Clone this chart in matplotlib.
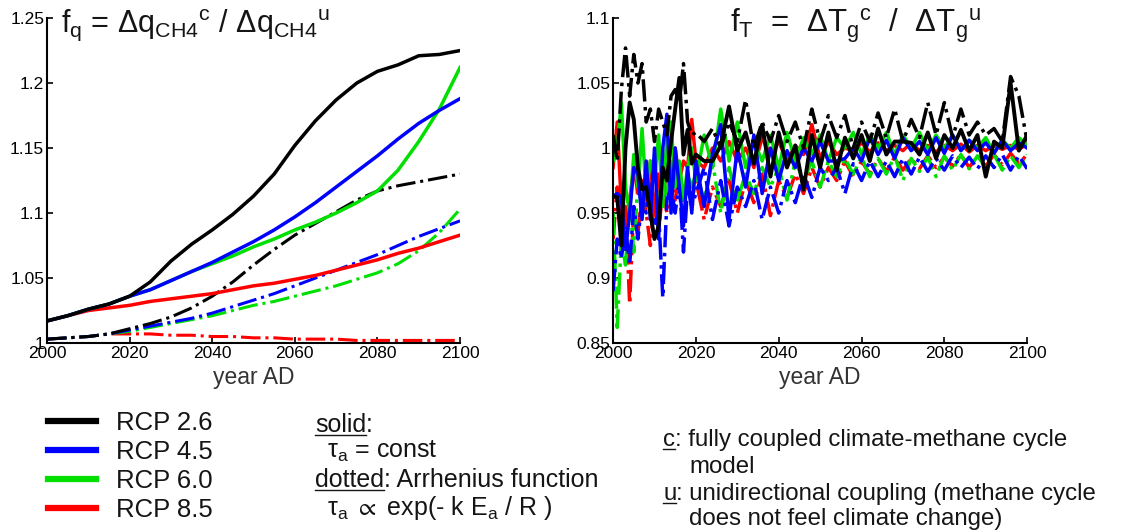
import matplotlib.pyplot as plt
from matplotlib.lines import Line2D

plt.rcParams['font.family'] = ['Liberation Sans', 'DejaVu Sans']
plt.rcParams['mathtext.fontset'] = 'custom'
plt.rcParams['mathtext.rm'] = 'Liberation Sans'
plt.rcParams['mathtext.it'] = 'Liberation Sans'
plt.rcParams['mathtext.fallback'] = 'stixsans'
plt.rcParams['text.color'] = '#151515'

# ---- left panel: methane amplification factor f_q ----
years_q = list(range(2000, 2101, 5))
q_26_c = [1.017, 1.021, 1.026, 1.030, 1.036, 1.047, 1.063, 1.076, 1.087, 1.099, 1.113,
          1.130, 1.152, 1.171, 1.187, 1.200, 1.209, 1.214, 1.221, 1.222, 1.225]
q_45_c = [1.017, 1.021, 1.026, 1.030, 1.036, 1.041, 1.048, 1.055, 1.062, 1.070, 1.078,
          1.087, 1.097, 1.108, 1.120, 1.132, 1.144, 1.157, 1.169, 1.179, 1.188]
q_60_c = [1.017, 1.021, 1.026, 1.030, 1.036, 1.041, 1.048, 1.055, 1.061, 1.067, 1.074,
          1.080, 1.087, 1.093, 1.100, 1.108, 1.117, 1.133, 1.155, 1.180, 1.212]
q_85_c = [1.017, 1.021, 1.025, 1.027, 1.029, 1.032, 1.034, 1.036, 1.038, 1.041, 1.044,
          1.046, 1.049, 1.052, 1.056, 1.060, 1.064, 1.069, 1.073, 1.078, 1.083]
q_26_a = [1.003, 1.004, 1.005, 1.007, 1.011, 1.015, 1.020, 1.027, 1.036, 1.047, 1.060,
          1.072, 1.083, 1.092, 1.101, 1.110, 1.117, 1.121, 1.124, 1.127, 1.130]
q_45_a = [1.003, 1.004, 1.005, 1.007, 1.010, 1.013, 1.016, 1.019, 1.023, 1.028, 1.033,
          1.038, 1.044, 1.050, 1.056, 1.062, 1.068, 1.075, 1.082, 1.088, 1.094]
q_60_a = [1.003, 1.004, 1.005, 1.007, 1.009, 1.012, 1.015, 1.018, 1.021, 1.025, 1.029,
          1.032, 1.036, 1.040, 1.044, 1.049, 1.054, 1.061, 1.071, 1.085, 1.103]
q_85_a = [1.003, 1.004, 1.005, 1.007, 1.007, 1.007, 1.006, 1.006, 1.005, 1.005, 1.004,
          1.004, 1.003, 1.003, 1.003, 1.002, 1.002, 1.002, 1.002, 1.002, 1.002]

# ---- right panel: temperature amplification factor f_T ----
years_T = list(range(2000, 2020)) + list(range(2020, 2101, 2))
T_26_c = [0.963, 0.962, 0.925, 1.000, 1.035, 1.022, 0.985, 0.968, 0.970, 0.950,
          0.930, 0.940, 0.985, 0.975, 1.005, 1.030, 1.054, 0.995, 1.014, 0.988,
          0.995, 0.990, 0.990, 1.002, 1.032, 0.998, 1.012, 0.988, 1.018, 0.978,
          1.012, 0.985, 1.002, 0.968, 1.010, 0.985, 1.012, 0.983, 1.008, 0.992,
          1.010, 0.990, 1.015, 0.995, 1.005, 1.005, 1.004, 0.995, 1.012, 0.992,
          1.010, 1.000, 1.014, 0.998, 1.010, 0.978, 1.005, 1.000, 1.050, 0.998, 1.010]
T_45_c = [0.963, 0.965, 0.962, 0.922, 0.950, 0.985, 0.980, 0.945, 0.990, 0.945,
          1.000, 0.930, 1.000, 1.026, 0.950, 1.000, 0.970, 0.940, 0.985, 0.950,
          0.990, 0.955, 0.995, 1.018, 0.945, 1.000, 0.970, 1.010, 0.965, 1.000,
          0.975, 0.998, 0.985, 1.000, 0.990, 1.005, 0.990, 0.990, 0.992, 1.000,
          0.990, 1.008, 0.995, 1.006, 0.992, 1.008, 0.998, 1.005, 0.995, 1.008,
          0.996, 1.010, 0.998, 1.006, 0.998, 1.004, 0.996, 1.006, 0.998, 1.004, 1.000]
T_60_c = [0.990, 1.000, 1.035, 0.970, 0.950, 0.995, 0.970, 1.015, 0.965, 0.990,
          0.975, 1.010, 0.955, 1.010, 1.020, 0.970, 0.990, 0.960, 0.985, 1.000,
          0.975, 1.010, 0.985, 1.030, 0.990, 1.020, 0.985, 1.005, 0.990, 1.010,
          0.985, 1.012, 0.990, 1.008, 0.995, 1.010, 0.990, 1.008, 1.000, 1.012,
          0.995, 1.010, 1.000, 1.012, 0.995, 1.010, 1.000, 1.012, 0.998, 1.010,
          1.000, 1.010, 0.998, 1.006, 1.000, 1.008, 0.996, 1.006, 1.000, 1.008, 1.002]
T_85_c = [0.985, 1.020, 0.955, 0.940, 0.960, 0.985, 0.965, 0.975, 0.960, 0.990,
          0.950, 0.980, 0.960, 0.990, 0.970, 1.000, 0.975, 0.990, 0.985, 1.022,
          0.990, 0.985, 1.000, 0.990, 1.005, 0.990, 1.000, 0.985, 1.008, 0.995,
          1.005, 0.990, 1.002, 0.995, 1.018, 0.992, 1.005, 0.995, 1.000, 0.998,
          1.004, 0.997, 1.004, 0.998, 1.002, 0.998, 1.004, 0.998, 1.002, 0.997,
          1.002, 0.998, 1.003, 0.997, 1.002, 0.998, 1.002, 0.999, 1.002, 0.999, 1.003]
T_26_a = [1.010, 0.990, 1.045, 1.077, 1.040, 1.072, 1.050, 1.065, 1.020, 1.030,
          1.005, 1.030, 1.020, 1.010, 1.040, 1.045, 1.035, 1.065, 1.020, 1.010,
          1.012, 1.005, 1.015, 1.000, 1.020, 1.005, 1.037, 1.000, 1.020, 1.005,
          1.025, 1.005, 1.020, 1.000, 1.030, 1.005, 1.025, 1.008, 1.025, 1.000,
          1.020, 1.005, 1.027, 1.008, 1.030, 1.005, 1.022, 1.008, 1.035, 1.010,
          1.035, 1.008, 1.030, 1.010, 1.020, 1.010, 1.015, 1.005, 1.055, 1.040, 1.005]
T_45_a = [0.890, 0.930, 0.915, 0.940, 0.910, 0.955, 0.930, 0.960, 0.950, 0.975,
          0.940, 0.950, 0.885, 0.960, 0.970, 0.950, 0.975, 0.920, 0.970, 0.955,
          0.965, 0.985, 0.945, 0.975, 0.940, 0.970, 0.955, 0.975, 0.945, 0.970,
          0.950, 0.975, 0.958, 0.980, 0.962, 0.985, 0.975, 0.985, 0.965, 0.988,
          0.975, 0.990, 0.978, 0.990, 0.978, 0.992, 0.980, 0.993, 0.982, 0.992,
          0.983, 0.994, 0.985, 0.993, 0.984, 0.994, 0.985, 0.995, 0.983, 0.994, 0.984]
T_60_a = [0.950, 0.862, 0.930, 0.910, 0.960, 0.920, 0.975, 0.950, 0.985, 0.960,
          0.990, 0.955, 0.980, 0.965, 0.990, 0.970, 0.985, 0.960, 0.980, 0.970,
          0.980, 0.960, 0.990, 0.950, 0.985, 0.960, 0.980, 0.965, 0.985, 0.970,
          0.985, 0.960, 0.990, 0.975, 0.990, 0.970, 0.990, 0.978, 0.992, 0.980,
          0.993, 0.978, 0.992, 0.980, 0.994, 0.975, 0.992, 0.982, 0.993, 0.978,
          0.994, 0.983, 0.995, 0.984, 0.994, 0.985, 0.995, 0.983, 0.994, 0.985, 0.995]
T_85_a = [0.930, 0.970, 0.940, 0.955, 0.880, 0.955, 0.935, 0.965, 0.950, 0.925,
          0.960, 0.935, 0.970, 0.950, 0.975, 0.960, 0.980, 0.965, 0.975, 0.960,
          0.975, 0.945, 0.970, 0.955, 0.975, 0.950, 0.975, 0.958, 0.980, 0.948,
          0.975, 0.962, 0.980, 0.965, 0.985, 0.970, 0.985, 0.975, 0.990, 0.978,
          0.990, 0.980, 0.992, 0.982, 0.993, 0.983, 0.992, 0.984, 0.994, 0.985,
          0.993, 0.986, 0.995, 0.985, 0.994, 0.986, 0.995, 0.987, 0.996, 0.988, 0.995]

scenarios = ['RCP 2.6', 'RCP 4.5', 'RCP 6.0', 'RCP 8.5']
colors = ['#000000', '#0000ff', '#00e000', '#ff0000']

fig = plt.figure(figsize=(11.27, 5.31), dpi=100)
axL = fig.add_axes([0.0417, 0.354, 0.3665, 0.612])
axR = fig.add_axes([0.544, 0.354, 0.3674, 0.612])

# left panel, dash-dot (Arrhenius) behind, solid (const) on top
for series, c in zip([q_85_a, q_60_a, q_45_a, q_26_a], colors[::-1]):
    axL.plot(years_q, series, '-.', color=c, lw=2.2)
handles = {}
for series, c, lab in zip([q_85_c, q_60_c, q_45_c, q_26_c], colors[::-1], scenarios[::-1]):
    handles[lab], = axL.plot(years_q, series, '-', color=c, lw=2.5, label=lab)

# right panel
for series, c in zip([T_85_a, T_60_a, T_45_a], ['#ff0000', '#00e000', '#0000ff']):
    axR.plot(years_T, series, '-.', color=c, lw=2.5)
for series, c in zip([T_85_c, T_60_c, T_45_c], ['#ff0000', '#00e000', '#0000ff']):
    axR.plot(years_T, series, '-', color=c, lw=2.5)
axR.plot(years_T, T_26_a, '-.', color='k', lw=2.5)
axR.plot(years_T, T_26_c, '-', color='k', lw=2.8)

axL.set_ylim(1.0, 1.25)
axL.set_yticks([1.0, 1.05, 1.1, 1.15, 1.2, 1.25])
axL.set_yticklabels(['1', '1.05', '1.1', '1.15', '1.2', '1.25'])
axR.set_ylim(0.85, 1.1)
axR.set_yticks([0.85, 0.9, 0.95, 1.0, 1.05, 1.1])
axR.set_yticklabels(['0.85', '0.9', '0.95', '1', '1.05', '1.1'])

for ax in (axL, axR):
    ax.set_xlim(2000, 2100)
    ax.set_xticks(range(2000, 2101, 20))
    ax.spines['top'].set_visible(False)
    ax.spines['right'].set_visible(False)
    ax.spines['left'].set_linewidth(1.5)
    ax.spines['bottom'].set_linewidth(1.5)
    ax.tick_params(direction='in', length=4, width=1.2, labelsize=12.5, pad=2)
    ax.set_xlabel('year AD', fontsize=16.5, color='#333333', labelpad=4)

axL.text(0.035, 1.035, r'f$_\mathregular{q}$ = $\Delta$q$_\mathregular{CH4}$$^\mathregular{c}$ / '
         r'$\Delta$q$_\mathregular{CH4}$$^\mathregular{u}$',
         transform=axL.transAxes, fontsize=22, va='top', ha='left')
axR.text(0.283, 1.035, r'f$_\mathregular{T}$  =  $\Delta$T$_\mathregular{g}$$^\mathregular{c}$  /  '
         r'$\Delta$T$_\mathregular{g}$$^\mathregular{u}$',
         transform=axR.transAxes, fontsize=22.5, va='top', ha='left')

leg = fig.legend([handles[s] for s in scenarios], scenarios, loc='upper left',
                 bbox_to_anchor=(0.0335, 0.246), borderaxespad=0, frameon=False,
                 fontsize=18.5, handlelength=1.87, handletextpad=0.78, labelspacing=0.2)
for ln in leg.get_lines():
    ln.set_linewidth(4.5)

renderer = fig.canvas.get_renderer()


def underlined(x, y, word, rest, fs):
    # word drawn with a line under it, rest continues right after it
    t = fig.text(x, y, word, fontsize=fs, va='baseline')
    bb = t.get_window_extent(renderer).transformed(fig.transFigure.inverted())
    fig.add_artist(Line2D([bb.x0, bb.x1], [y - 0.005, y - 0.005], color='#151515', lw=1,
                          transform=fig.transFigure))
    fig.text(bb.x1, y, rest, fontsize=fs, va='baseline')


fs1 = 18
underlined(0.2795, 0.186, 'solid', ':', fs1)
fig.text(0.290, 0.1375, r'τ$_\mathregular{a}$ = const', fontsize=fs1, va='baseline')
underlined(0.2795, 0.083, 'dotted', ': Arrhenius function', fs1)
fig.text(0.290, 0.030, r'τ$_\mathregular{a}$ $\propto$ exp(- k E$_\mathregular{a}$ / R )',
         fontsize=fs1, va='baseline')

fs2 = 17.3
underlined(0.5883, 0.160, 'c', ': fully coupled climate-methane cycle', fs2)
fig.text(0.6114, 0.109, 'model', fontsize=fs2, va='baseline')
underlined(0.5883, 0.058, 'u', ': unidirectional coupling (methane cycle', fs2)
fig.text(0.6114, 0.012, 'does not feel climate change)', fontsize=fs2, va='baseline')

fig.savefig('out.png', dpi=100)
